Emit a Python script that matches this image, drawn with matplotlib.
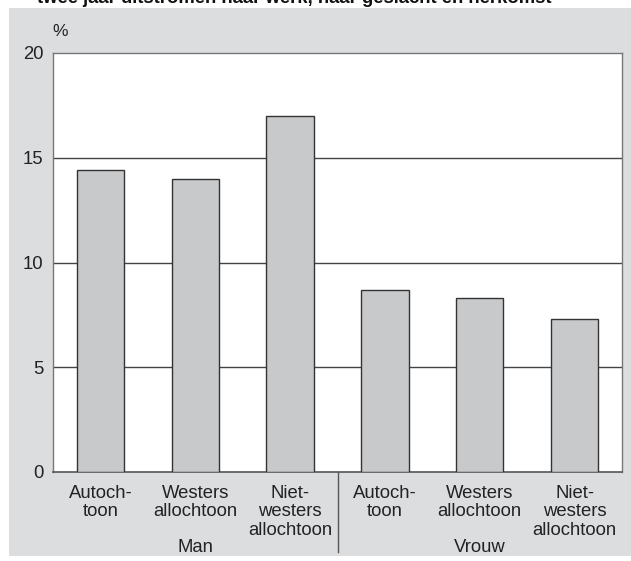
import matplotlib
matplotlib.use("Agg")
import matplotlib.pyplot as plt
from matplotlib.patches import Rectangle
from matplotlib.lines import Line2D

plt.rcParams['font.family'] = ['Liberation Sans', 'DejaVu Sans']

title = "twee jaar uitstromen naar werk, naar geslacht en herkomst"
categories = ["Autoch-\ntoon", "Westers\nallochtoon", "Niet-\nwesters\nallochtoon",
              "Autoch-\ntoon", "Westers\nallochtoon", "Niet-\nwesters\nallochtoon"]
groups = ["Man", "Vrouw"]
values = [14.4, 14.0, 17.0, 8.7, 8.3, 7.3]
yticks = [0, 5, 10, 15, 20]

W, H = 631, 561
fig = plt.figure(figsize=(W / 100, H / 100), dpi=100)
fig.patch.set_facecolor('white')

# grey panel
fig.patches.append(Rectangle((9 / W, 1 - 556 / H), (W - 9) / W, (556 - 8) / H,
                             transform=fig.transFigure, facecolor='#dcdddf',
                             edgecolor='none', zorder=-5))

# cut-off title
fig.text(37 / W, 1 - 3 / H, title, fontsize=13.3, fontweight='bold',
         ha='left', va='baseline', color='#111111')

ax = fig.add_axes([53 / W, 1 - 472 / H, (622 - 53) / W, (472 - 53) / H])
ax.set_zorder(2)
ax.set_facecolor('white')
x = list(range(len(values)))
ax.bar(x, values, width=0.5, color='#c8c9cb', edgecolor='#333333', linewidth=1.0, zorder=3)
ax.set_xlim(-0.5, 5.5)
ax.set_ylim(0, 20)
ax.set_yticks(yticks)
ax.set_yticklabels([str(t) for t in yticks], fontsize=13.3, color='#222222')
ax.tick_params(axis='y', length=0, pad=7)
ax.set_xticks(x)
ax.set_xticklabels(categories, fontsize=13.3, color='#222222', linespacing=1.12, va='top')
ax.tick_params(axis='x', length=0, pad=9)
for t in [5, 10, 15]:
    ax.axhline(t, color='#444444', linewidth=1.0, zorder=1)
for s in ['left', 'top', 'right']:
    ax.spines[s].set_color('#777777')
    ax.spines[s].set_linewidth(1.0)
ax.spines['bottom'].set_color('#555555')
ax.spines['bottom'].set_linewidth(1.2)

# group labels and divider
gy = -(547 - 472) / (472 - 53)
ax.text(1, gy, groups[0], transform=ax.get_xaxis_transform(), ha='center', va='center',
        fontsize=13.3, color='#222222')
ax.text(4, gy, groups[1], transform=ax.get_xaxis_transform(), ha='center', va='center',
        fontsize=13.3, color='#222222')
ax.add_line(Line2D([2.5, 2.5], [0, -(552 - 472) / (472 - 53)], transform=ax.get_xaxis_transform(),
                   color='#555555', linewidth=1.0, clip_on=False))

fig.text(52 / W, 1 - 32 / H, "%", fontsize=12.5, ha='left', va='center', color='#222222')

fig.savefig("out.png", dpi=100)
